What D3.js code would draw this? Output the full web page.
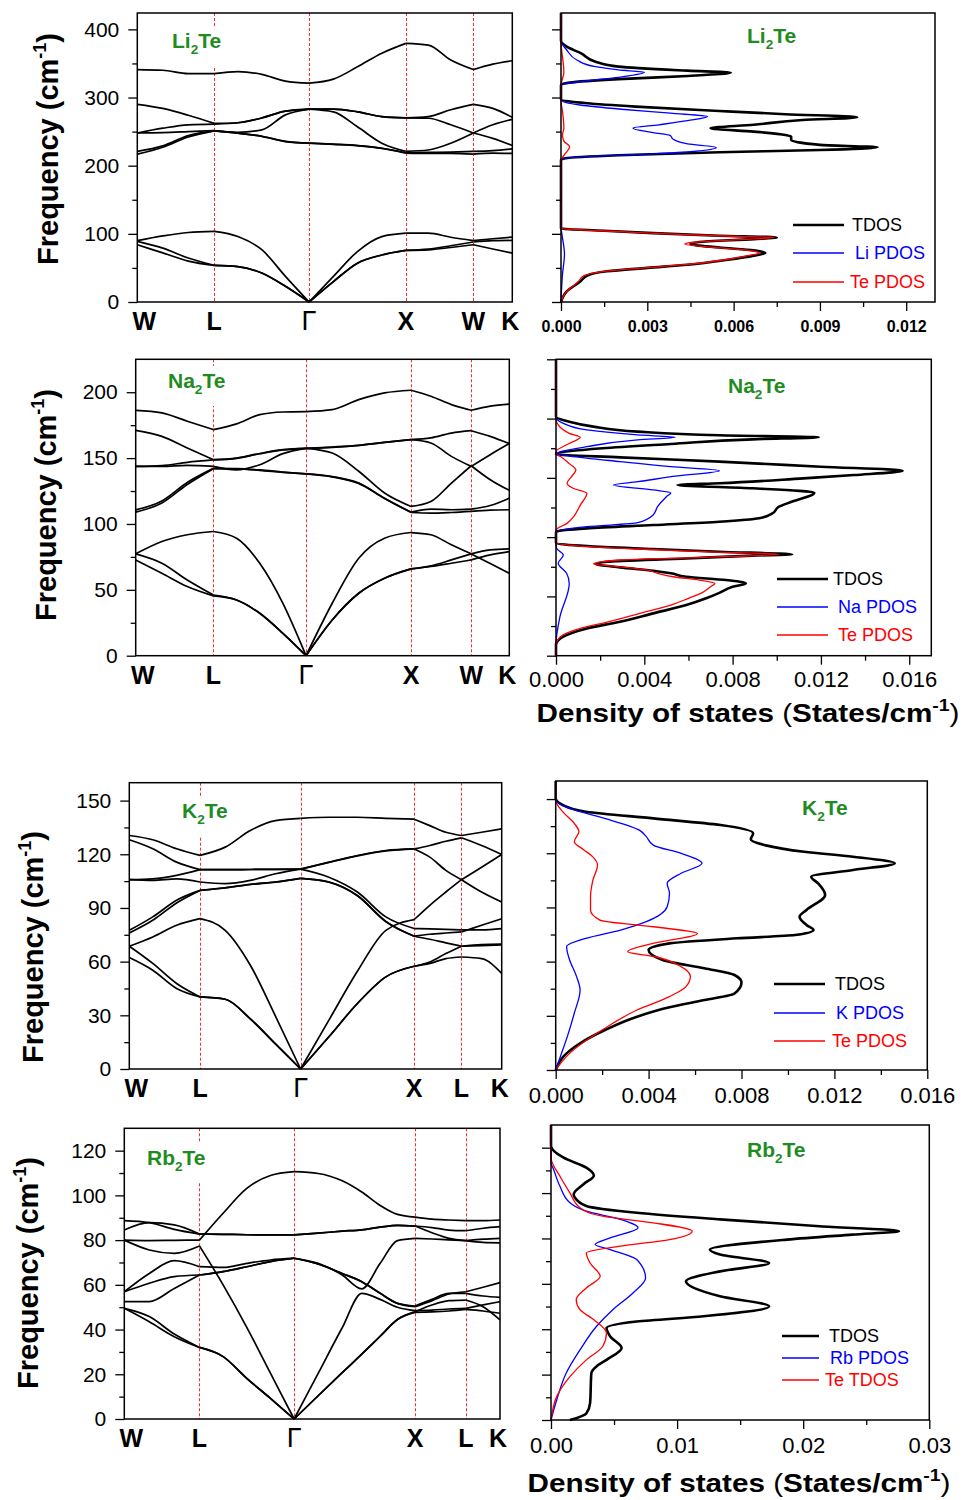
<!DOCTYPE html>
<html lang="en">
<head>
<meta charset="UTF-8">
<title>Phonon dispersion and DOS of Li2Te, Na2Te, K2Te, Rb2Te</title>
<script src="https://d3js.org/d3.v7.min.js"></script>
<style>
  body { margin: 0; background: #fff; }
  svg { display: block; }
  text { font-family: "Liberation Sans", Arial, sans-serif; }
</style>
</head>
<body>
<svg id="chart" width="969" height="1500"></svg>
<script>
// ---------------- data: Li2Te ----------------
const liK = [0,0.068,0.136,0.205, 0.268,0.332,0.395,0.458, 0.523,0.587,0.652,0.716, 0.776,0.836,0.896, 0.948,1];
const liSym = [0,0.205,0.458,0.716,0.896,1];
const liSymLabels = ["W","L","Γ","X","W","K"];
const liBands = [
  [341,340,335,335, 338,334,324,321, 327,345,365,379.5, 377,355,341, 349,354],
  [290,284,274,262, 263,270,280,283, 283,279,272,270, 272,282,290, 284,271],
  [248,255,260,261, 263,270,280,283, 283,279,272,270, 269.6,260,248, 260,268],
  [248,248.6,250,251.5, 249,252.5,274.5,283, 279,257,233,221, 223,233,248, 240,229.5],
  [221,229,244,251, 247.8,243.2,235.6,233, 231.5,229.5,225.6,219, 219.5,220,221, 222,224.7],
  [217,227,242,251, 247.6,243,235.4,233, 231.3,229.3,225.4,218.5, 218,218,217, 218.5,218],
  [90,97,102,103.5, 96,76.7,37.6,0, 37.6,74,96,101, 101,95,90, 92.8,95.2],
  [89,79,64.5,53.7, 52,42.5,23,0, 30,57,69,75.7, 77.5,82.5,88, 90,90.3],
  [84,72,60,53.7, 52,42.5,23,0, 30,57,69,75.7, 76.5,80,84, 77.7,71.8]
];
const liFreqTicks = [0,100,200,300,400];
const liFreqMinor = [50,150,250,350];
const liDosTicks = [0,0.003,0.006,0.009,0.012];
const liDosMinor = [0.0015,0.0045,0.0075,0.0105];
const liTdos = [[0,0],[15.6,0.0002],[30,0.00067],[38.6,0.0009],[45,0.0016],[50,0.003],[54.7,0.0044],[62,0.0058],[68,0.0067],[71.8,0.0071],[75.7,0.0067],[80,0.0055],[85,0.0045],[88,0.0048],[92.3,0.0067],[94.7,0.0075],[97.2,0.0055],[101,0.0032],[104.5,0.0015],[108,0],[208.5,0],[211,0.00015],[215.4,0.002],[219.8,0.0055],[223,0.009],[227,0.011],[230.5,0.009],[237.8,0.008],[242.7,0.008],[245,0.0078],[250,0.0067],[255,0.0052],[260,0.0067],[267,0.0084],[271,0.0103],[275.5,0.0078],[280.3,0.0055],[286.7,0.0026],[291.6,0.0009],[297.4,0],[318.4,0],[321.9,0.0003],[327,0.002],[331.6,0.0044],[336.5,0.0059],[339.4,0.0044],[345.3,0.002],[352.6,0.0012],[364.8,0.0007],[374.6,0.0002],[383.4,0],[424,0]];
const liLiPdos = [[0,0],[40,0.00005],[70,0.00012],[100,0.00003],[110,0],[209.5,0],[213.4,0.0009],[217.3,0.0032],[220.8,0.0046],[226.6,0.0054],[232,0.0044],[238.8,0.0039],[244.2,0.0038],[248.6,0.0032],[255,0.0025],[260,0.0034],[266,0.0044],[272,0.0051],[277,0.0038],[282.8,0.0021],[289,0.00067],[296.5,0],[318.4,0],[324.3,0.0009],[329.7,0.002],[337,0.0029],[340.5,0.002],[345.3,0.0012],[355,0.00055],[369.7,0.0002],[383.4,0],[424,0]];
const liTePdos = [[0,0],[13,0.00015],[30,0.0006],[38.6,0.0008],[45,0.0015],[50,0.0029],[54.7,0.0043],[62,0.0057],[68,0.0065],[71.8,0.0069],[75.7,0.0065],[80,0.0053],[85,0.0043],[88,0.0047],[92.3,0.0066],[94.7,0.0074],[97.2,0.0054],[101,0.0031],[104.5,0.0014],[108,0],[208,0],[215,0.0001],[228,0.0003],[236,0.0001],[245,0.00005],[255,0.0001],[280,0.00005],[295,0],[318,0],[337,0.0001],[383,0],[424,0]];

// ---------------- data: Na2Te ----------------
const naK = [0,0.070,0.138,0.208, 0.270,0.332,0.394,0.456, 0.526,0.597,0.666,0.737, 0.790,0.845,0.898, 0.949,1];
const naSym = [0,0.208,0.456,0.737,0.898,1];
const naSymLabels = ["W","L","Γ","X","W","K"];
const naBands = [
  [186.3,184.3,178,171.6, 176,183,185,185.3, 186.8,194.4,199.5,201.5, 197,190.6,186.3, 189.4,191],
  [171,166.5,157.7,148.8, 150,153.5,156.4,157.4, 158.4,159.7,162,164, 165.3,169,170.8, 166.5,161],
  [143.7,144.3,146.8,148.6, 149.8,153.3,156.2,157.4, 158.2,159.6,161.9,164, 161.5,151.3,143.7, 152.6,161],
  [143.7,143.7,144.5,143.7, 141,145,153.4,157.4, 153.9,140,123.5,113.3, 117,131,144.2, 133.6,125.5],
  [110.7,117.5,131.5,142.2, 142,141,139.4,138, 136,131,119.6,109, 111.3,110.8,111.3, 114,119.6],
  [109,116,130,142, 141.8,140.7,139.2,138, 135.8,130.8,119.4,108.7, 108.2,108.7,109.5, 110.5,110.8],
  [77.3,86.7,91.8,94.3, 89.2,70.2,39.8,0, 39.8,74,89.2,93.5, 91.8,84.2,77.3, 80.4,81.1],
  [77.3,70.2,57.5,46.1, 42.3,32.2,17,0, 27.1,47.4,58.8,65.9, 68.2,72.7,77.3, 70,62.6],
  [72.7,62.6,52.5,45.4, 42.3,32.2,17,0, 27.1,47.4,58.8,65.9, 67.7,70.2,72.7, 76.5,79]
];
const naFreqTicks = [0,50,100,150,200];
const naFreqMinor = [25,75,125,175];
const naDosFreqTicks = [0,50,100,150,200,250];
const naDosFreqMinor = [25,75,125,175,225];
const naDosTicks = [0,0.004,0.008,0.012,0.016];
const naDosMinor = [0.002,0.006,0.010,0.014];
const naTdos = [[0,0],[9,0],[16,0.00033],[23,0.0014],[28.7,0.0029],[35.7,0.0044],[42.7,0.0059],[48.4,0.0068],[53,0.0074],[58.2,0.008],[61,0.0086],[63.8,0.0077],[66.6,0.0059],[69.5,0.0052],[71.7,0.0044],[74.5,0.0029],[77.3,0.0018],[79.3,0.0023],[82,0.0059],[84.4,0.0089],[85.5,0.0107],[87.7,0.0074],[90,0.0044],[92.5,0.0014],[95.3,0],[104.6,0],[107.4,0.0014],[110.2,0.0044],[113,0.0074],[115.9,0.0092],[120,0.0098],[125.7,0.0101],[130,0.0107],[137.5,0.0117],[141.2,0.0089],[144,0.0055],[145.4,0.0074],[149.6,0.0112],[152.4,0.0135],[156,0.0157],[159.4,0.012],[163.7,0.0074],[167.3,0.0029],[170,0],[175,0.0021],[178.6,0.0052],[182.5,0.0089],[184.2,0.0119],[185.9,0.0074],[189,0.0037],[193.2,0.0017],[197.4,0.0006],[201.6,0],[250,0]];
const naNaPdos = [[0,0],[9,0],[33,0.00018],[61,0.0006],[69.5,0.00048],[78,0.0001],[85,0.00033],[90.5,0.00003],[95,0],[104.6,0],[108.8,0.0014],[112.2,0.0037],[118.7,0.0044],[125.7,0.0046],[134.1,0.005],[137.5,0.0052],[139.8,0.0044],[144,0.0026],[146.8,0.0037],[151.6,0.0055],[156,0.0074],[159.4,0.0052],[163.7,0.0029],[168.4,0.0006],[170,0],[176.3,0.0014],[182,0.0037],[184.2,0.0054],[186.2,0.0037],[190.4,0.0014],[196,0.00033],[201.6,0],[250,0]];
const naTePdos = [[0,0],[9,0],[16,0.0002],[23,0.0011],[28.7,0.0024],[35.7,0.0038],[42.7,0.0052],[48.4,0.006],[53,0.0066],[58.2,0.007],[61,0.0072],[63.8,0.0065],[66.6,0.0053],[69.5,0.0046],[72.3,0.0041],[75,0.0029],[77.3,0.0017],[80.7,0.0029],[83,0.0067],[85.5,0.0101],[87.7,0.0067],[90,0.0037],[92.5,0.0011],[95.3,0],[106,0],[111.6,0.0005],[117.3,0.0008],[127,0.0011],[137,0.0014],[141,0.0008],[145.4,0.0005],[151,0.0007],[156.6,0.0009],[162,0.0006],[168,0.0002],[170,0],[172,0],[179,0.0006],[184.2,0.0011],[187.6,0.0006],[194.6,0.0001],[200,0],[250,0]];

// ---------------- data: K2Te ----------------
const kaK = [0,0.063,0.127,0.190, 0.2575,0.325,0.3925,0.460, 0.536,0.6125,0.689,0.765, 0.807,0.850,0.892, 0.946,1];
const kaSym = [0,0.190,0.460,0.765,0.892,1];
const kaSymLabels = ["W","L","Γ","X","L","K"];
const kaBands = [
  [130.5,128.1,123.1,119.4, 124,133.3,138.8,140.1, 140.7,140.7,140.1,139.6, 136,132.3,130.5, 132.3,134.2],
  [128.1,123.1,115.6,111.4, 111.4,111.5,111.6,111.7, 115.6,119.3,122.1,123, 124.9,127.3,129.2, 124.9,119.9],
  [105.8,106.3,108.2,111.4, 111.4,111.5,111.6,111.7, 115.4,119.1,121.9,123, 118.4,111,105.8, 98.9,93.3],
  [105.8,105.4,106.3,104.5, 103.6,105.4,109.1,111.7, 107.2,98.9,85,78.5, 78.3,78,77.7, 77.8,78.5],
  [76,83.1,92.8,99.8, 101.3,103.2,104.5,106.5, 104.5,97,82.5,74.2, 75.3,76,76.6, 80.3,84],
  [77.5,85,94.3,99.8, 101.2,103.1,104.4,106.5, 104.4,96.8,82.3,74.2, 72.5,70.5,68.6, 69,69.4],
  [68.6,73.8,80.3,84, 77.5,58,29.5,0, 27.3,54.6,77.5,83.5, 91.5,98.9,105.8, 112.8,119.9],
  [68.6,59,47.8,40.3, 39,28,14,0, 18,36.6,51.5,57.4, 59.8,64.5,68.6, 69.5,69.8],
  [62.3,55.2,45,40.3, 39,28,14,0, 18,36.6,51.5,57.4, 59,61.7,62.6, 61.7,53.4]
];
const kaFreqTicks = [0,30,60,90,120,150];
const kaFreqMinor = [15,45,75,105,135];
const kaDosTicks = [0,0.004,0.008,0.012,0.016];
const kaDosMinor = [0.002,0.006,0.010,0.014];
const kaTdos = [[0,0],[7.4,0.00033],[14.8,0.00105],[22,0.0021],[29.5,0.0035],[34.7,0.0049],[38.7,0.0064],[42.4,0.0077],[48.5,0.008],[52.6,0.0077],[56.3,0.0064],[60.9,0.0046],[66.4,0.004],[70.1,0.0049],[72.9,0.0078],[74.7,0.0103],[77.5,0.0111],[80.3,0.0108],[84.9,0.0105],[88.6,0.0108],[96.9,0.0116],[103.3,0.0113],[107,0.011],[110.7,0.0128],[114.4,0.0146],[118.1,0.0128],[120.8,0.0107],[124.5,0.009],[127.7,0.0084],[131,0.0085],[135.6,0.0071],[139.3,0.0042],[143,0.0013],[146.7,0.0003],[150.4,0],[160,0]];
const kaKPdos = [[0,0],[7.4,0.0002],[18.5,0.0005],[31.4,0.0008],[44.3,0.00105],[51.7,0.0009],[60.9,0.0006],[68.3,0.00047],[72.9,0.0013],[77.5,0.0028],[82.1,0.0039],[90.4,0.0048],[97.8,0.0049],[103.3,0.0048],[108.9,0.0054],[114.4,0.0063],[119.9,0.0054],[124.5,0.0042],[129.2,0.0039],[132.8,0.0036],[139.3,0.0021],[144.8,0.0006],[149.4,0],[160,0]];
const kaTePdos = [[0,0],[9.2,0.0006],[23,0.0021],[33.2,0.0035],[40.6,0.0049],[46,0.0056],[51.7,0.0058],[57.2,0.0054],[62.7,0.0043],[65.5,0.0031],[70.1,0.0042],[75.6,0.0061],[79.3,0.0042],[83,0.0019],[88.6,0.0015],[96,0.0015],[105,0.0016],[113.5,0.0018],[118,0.0016],[122,0.0012],[126.4,0.0008],[132,0.001],[136.5,0.0008],[143,0.0003],[149.4,0],[160,0]];

// ---------------- data: Rb2Te ----------------
const rbK = [0,0.0665,0.133,0.200, 0.263,0.326,0.389,0.452, 0.516,0.580,0.632,0.681,0.727,0.774, 0.819,0.864,0.909, 0.955,1];
const rbSym = [0,0.200,0.452,0.774,0.909,1];
const rbSymLabels = ["W","L","Γ","X","L","K"];
const rbBands = [
  [88.7,87.8,84.8,82.7, 82.6,82.4,82.3,82.3, 83.1,84.0,84.6,85.8,86.6,86.3, 85.6,84.5,84.2, 85.3,86],
  [84.5,87.8,86.8,82.7, 82.6,82.4,82.3,82.3, 83.1,84.0,84.6,85.8,86.6,86.3, 83.3,80.8,79.8, 79,78.8],
  [80,79.8,79.9,80, 92,103.1,108.9,110.6, 109.8,106.5,101.5,95.5,91.5,90.3, 89.4,89,88.7, 88.7,89],
  [80,75.6,74.1,77.4, 60,41,20.5,0, 20.4,40.8,56.2,53.5,50,48.5, 48.7,49.2,49.5, 51,52.5],
  [56.9,65.1,70.8,68.1, 67.8,69.6,71.1,71.9, 69.6,64.4,58.2,69.6,79.8,80.8, 80.5,80.1,79.8, 80.4,80.8],
  [56.9,60.7,63.7,64.4, 65.9,68.1,70.4,71.9, 69.3,65.1,61.4,56.2,51.7,50.5, 53.5,56.2,56.2, 55,54.4],
  [52.5,52.5,58.4,64.4, 65.9,68.1,70.4,71.9, 69.3,65.1,61.4,56.2,51.7,50.2, 52.9,55.9,56.9, 58.9,61],
  [49.5,43.5,36.8,32, 27.9,18.2,9.2,0, 10.4,20.7,29,37,44.5,48, 51,52.9,53.2, 50.2,44.3],
  [49.5,45.8,38,32, 27.9,18.2,9.2,0, 10.4,20.7,29,37,44.5,47.7, 47.9,48.3,49, 48.3,47.3]
];
const rbFreqTicks = [0,20,40,60,80,100,120];
const rbFreqMinor = [10,30,50,70,90,110];
const rbDosTicks = [0,0.01,0.02,0.03];
const rbDosMinor = [0.005,0.015,0.025];
const rbTdos = [[0,0.0015],[2.9,0.0028],[7.4,0.0031],[20.6,0.0032],[23.6,0.0036],[26.5,0.0044],[31.7,0.0056],[36.8,0.0047],[40.5,0.0044],[43.4,0.0068],[45.7,0.0121],[50.1,0.0173],[54.5,0.0134],[61.1,0.0107],[65.5,0.0134],[69.2,0.0173],[72.9,0.0134],[75.1,0.0126],[79.5,0.0187],[81.7,0.0239],[83.2,0.0276],[85.4,0.0213],[88.4,0.0134],[91.3,0.0068],[94.3,0.0028],[97.9,0.0019],[99.4,0.0018],[104,0.0026],[107.8,0.0034],[111.2,0.0028],[115.6,0.001],[120.8,0],[130,0]];
const rbRbPdos = [[0,0],[8.8,0.00045],[20.6,0.0012],[30.9,0.0023],[41.2,0.0036],[48.6,0.0049],[56,0.0065],[62.6,0.0075],[70.7,0.0068],[75.1,0.0047],[77.3,0.0035],[80.3,0.0047],[84.7,0.0069],[88.4,0.0055],[92,0.0028],[95.7,0.0015],[103.1,0.0007],[110.5,0.0002],[113.4,0],[130,0]];
const rbTePdos = [[0,0],[10.3,0.00045],[19.1,0.0015],[26.5,0.0028],[32.4,0.0041],[38.3,0.0044],[44.2,0.0034],[48.6,0.0023],[53,0.002],[58.2,0.0028],[63.3,0.0039],[69.2,0.0031],[73.6,0.0028],[76.6,0.0055],[79.5,0.0094],[83.2,0.0112],[86.9,0.0081],[89.8,0.0041],[93.5,0.0023],[100.1,0.0015],[107.5,0.0007],[115.6,0],[130,0]];

// ---------------- drawing ----------------
const svg = d3.select("#chart");
const FONT = '"Liberation Sans", Arial, sans-serif';
const GREEN = "#1f8c1f";

function chem(g, x, y, parts, size) {
  // parts: [main, subscript, rest]
  const t = g.append("text").attr("x", x).attr("y", y)
    .attr("font-size", size).attr("font-weight", "bold").attr("fill", GREEN).attr("font-family", FONT);
  t.append("tspan").text(parts[0]);
  t.append("tspan").attr("font-size", size * 0.65).attr("dy", 6).text(parts[1]);
  t.append("tspan").attr("dy", -6).text(parts[2]);
  return t;
}

function styleAxis(a, size, bold) {
  a.attr("font-family", FONT).attr("font-size", size);
  a.select(".domain").remove();
  a.selectAll("line").attr("stroke", "#000").attr("stroke-width", 1.3);
  a.selectAll("text").attr("fill", "#000").attr("font-weight", bold ? "bold" : "normal");
}

function frame(g, l, r, t, b) {
  g.append("rect").attr("x", l).attr("y", t).attr("width", r - l).attr("height", b - t)
    .attr("fill", "none").attr("stroke", "#000").attr("stroke-width", 1.5);
}

function drawBand(c) {
  const {l, r, t, b} = c.box;
  const g = svg.append("g");
  const x = d3.scaleLinear().domain([0, 1]).range([l, r]);
  const y = d3.scaleLinear().domain([0, c.yMax]).range([b, t]);

  // high-symmetry guides, snapped to the pixel grid so the thin red stays red
  g.selectAll("line.sym").data(c.sym.slice(1, -1)).join("line")
    .attr("x1", d => Math.round(x(d)) + 0.5).attr("x2", d => Math.round(x(d)) + 0.5)
    .attr("y1", t).attr("y2", b)
    .attr("stroke", "#ff2a2a").attr("stroke-width", 1).attr("stroke-dasharray", "3,2");

  // title on a white patch
  const title = chem(g, c.titleXY[0], c.titleXY[1], c.title, 21);
  const bb = title.node().getBBox();
  g.insert("rect", "text").attr("x", bb.x - 3).attr("y", bb.y - 3)
    .attr("width", bb.width + 6).attr("height", bb.height + 12).attr("fill", "#fff");

  const line = d3.line().x(d => x(d[0])).y(d => y(d[1])).curve(d3.curveMonotoneX);
  c.bands.forEach(band => {
    for (let s = 0; s < c.sym.length - 1; s++) {
      const i0 = c.k.indexOf(c.sym[s]), i1 = c.k.indexOf(c.sym[s + 1]);
      const pts = d3.range(i0, i1 + 1).map(i => [c.k[i], band[i]]);
      g.append("path").attr("d", line(pts)).attr("fill", "none")
        .attr("stroke", "#000").attr("stroke-width", 1.7);
    }
  });

  frame(g, l, r, t, b);
  const ya = g.append("g").attr("transform", `translate(${l},0)`)
    .call(d3.axisLeft(y).tickValues(c.yTicks).tickSize(9).tickPadding(9));
  styleAxis(ya, 21, false);
  const ym = g.append("g").attr("transform", `translate(${l},0)`)
    .call(d3.axisLeft(y).tickValues(c.yMinor).tickSize(5).tickFormat(""));
  styleAxis(ym, 21, false);

  // symmetry point labels
  const last = c.sym.length - 1;
  c.sym.forEach((s, i) => {
    const lab = c.symLabels[i];
    const gam = lab === "Γ";
    g.append("text")
      .attr("x", x(s) + (i === 0 ? 7 : i === last ? -2 : 0))
      .attr("y", b + 28).attr("text-anchor", "middle")
      .attr("font-family", gam ? '"Liberation Serif", "Times New Roman", serif' : FONT)
      .attr("font-weight", gam ? "normal" : "bold")
      .attr("font-size", gam ? 27 : 25).attr("fill", "#000").text(lab);
  });

  // y title
  const yt = g.append("text").attr("transform", `translate(${c.yTitle[0]},${c.yTitle[1]}) rotate(-90)`)
    .attr("text-anchor", "middle").attr("font-family", FONT).attr("font-weight", "bold")
    .attr("font-size", 29).attr("fill", "#000");
  yt.append("tspan").text("Frequency (cm");
  yt.append("tspan").attr("font-size", 18).attr("dy", -12).text("-1");
  yt.append("tspan").attr("dy", 12).text(")");
}

function drawDos(c) {
  const {l, r, t, b} = c.box;
  const g = svg.append("g");
  const x = d3.scaleLinear().domain([0, c.xMax]).range([l, r]);
  const y = d3.scaleLinear().domain([0, c.yMax]).range([b, t]);
  const line = d3.line().x(d => x(d[1])).y(d => y(d[0])).curve(d3.curveMonotoneY);

  const styles = [
    {color: "#000", width: 2.6},
    {color: "#0000ff", width: 1.3},
    {color: "#ff0000", width: 1.3}
  ];
  c.curves.forEach((data, i) => {
    g.append("path").attr("d", line(data)).attr("fill", "none")
      .attr("stroke", styles[i].color).attr("stroke-width", styles[i].width)
      .attr("stroke-linejoin", "round");
  });

  frame(g, l, r, t, b);
  const ya = g.append("g").attr("transform", `translate(${l},0)`)
    .call(d3.axisLeft(y).tickValues(c.yTicks).tickSize(9).tickFormat(""));
  styleAxis(ya, 20, false);
  const ym = g.append("g").attr("transform", `translate(${l},0)`)
    .call(d3.axisLeft(y).tickValues(c.yMinor).tickSize(5).tickFormat(""));
  styleAxis(ym, 20, false);
  const xa = g.append("g").attr("transform", `translate(0,${b})`)
    .call(d3.axisBottom(x).tickValues(c.xTicks).tickSize(9).tickFormat(d3.format(c.fmt)));
  styleAxis(xa, c.tickFont, c.tickBold);
  xa.selectAll("text").attr("dy", null).attr("y", c.tickBase);
  const xm = g.append("g").attr("transform", `translate(0,${b})`)
    .call(d3.axisBottom(x).tickValues(c.xMinor).tickSize(5).tickFormat(""));
  styleAxis(xm, 20, false);

  chem(g, c.titleXY[0], c.titleXY[1], c.title, 21);

  // legend
  const L = c.legend;
  L.labels.forEach((lab, i) => {
    g.append("line").attr("x1", L.x1).attr("x2", L.x2).attr("y1", L.ys[i]).attr("y2", L.ys[i])
      .attr("stroke", styles[i].color).attr("stroke-width", i === 0 ? 2.6 : 1.3);
    g.append("text").attr("x", L.tx[i]).attr("y", L.ys[i]).attr("dy", "0.35em")
      .attr("font-family", FONT).attr("font-size", 18).attr("fill", styles[i].color).text(lab);
  });
}

function dosTitle(cx, base) {
  const t = svg.append("text").attr("x", cx).attr("y", base).attr("text-anchor", "middle")
    .attr("font-family", FONT).attr("font-weight", "bold").attr("font-size", 26).attr("fill", "#000")
    .attr("textLength", 423).attr("lengthAdjust", "spacingAndGlyphs");
  t.append("tspan").text("Density of states ");
  t.append("tspan").attr("font-weight", "normal").text("(");
  t.append("tspan").text("States/cm");
  t.append("tspan").attr("font-size", 17).attr("dy", -11).text("-1");
  t.append("tspan").attr("font-weight", "normal").attr("dy", 11).text(")");
}

// ---- Li2Te ----
drawBand({box: {l: 137.3, r: 512.3, t: 13, b: 302}, yMax: 424, k: liK, sym: liSym, symLabels: liSymLabels,
  bands: liBands, yTicks: liFreqTicks, yMinor: liFreqMinor, title: ["Li", "2", "Te"], titleXY: [172, 48], yTitle: [58, 149]});
drawDos({box: {l: 561, r: 935, t: 13, b: 302}, xMax: 0.013, yMax: 424, curves: [liTdos, liLiPdos, liTePdos],
  yTicks: liFreqTicks, yMinor: liFreqMinor, xTicks: liDosTicks, xMinor: liDosMinor, fmt: ".3f",
  tickFont: 16, tickBold: true, tickBase: 30, title: ["Li", "2", "Te"], titleXY: [747, 43],
  legend: {x1: 793, x2: 844, ys: [225, 253, 282], tx: [852, 855, 850], labels: ["TDOS", "Li PDOS", "Te PDOS"]}});

// ---- Na2Te ----
drawBand({box: {l: 135.7, r: 509.3, t: 359.3, b: 655.7}, yMax: 225, k: naK, sym: naSym, symLabels: naSymLabels,
  bands: naBands, yTicks: naFreqTicks, yMinor: naFreqMinor, title: ["Na", "2", "Te"], titleXY: [168, 388], yTitle: [56, 505]});
drawDos({box: {l: 556, r: 931.3, t: 359.3, b: 655.7}, xMax: 0.017, yMax: 250, curves: [naTdos, naNaPdos, naTePdos],
  yTicks: naDosFreqTicks, yMinor: naDosFreqMinor, xTicks: naDosTicks, xMinor: naDosMinor, fmt: ".3f",
  tickFont: 22, tickBold: false, tickBase: 31, title: ["Na", "2", "Te"], titleXY: [728, 393],
  legend: {x1: 777, x2: 828, ys: [579, 607, 635], tx: [833, 838, 838], labels: ["TDOS", "Na PDOS", "Te PDOS"]}});
dosTitle(748, 722);

// ---- K2Te ----
drawBand({box: {l: 129.3, r: 501.7, t: 782.7, b: 1069}, yMax: 160, k: kaK, sym: kaSym, symLabels: kaSymLabels,
  bands: kaBands, yTicks: kaFreqTicks, yMinor: kaFreqMinor, title: ["K", "2", "Te"], titleXY: [182, 818], yTitle: [43, 947]});
drawDos({box: {l: 555.7, r: 927.3, t: 781, b: 1070}, xMax: 0.016, yMax: 160, curves: [kaTdos, kaKPdos, kaTePdos],
  yTicks: kaFreqTicks, yMinor: kaFreqMinor, xTicks: kaDosTicks, xMinor: kaDosMinor, fmt: ".3f",
  tickFont: 22, tickBold: false, tickBase: 33, title: ["K", "2", "Te"], titleXY: [802, 815],
  legend: {x1: 774, x2: 825, ys: [984, 1013, 1041], tx: [835, 836, 832], labels: ["TDOS", "K PDOS", "Te PDOS"]}});

// ---- Rb2Te ----
drawBand({box: {l: 124.3, r: 500, t: 1128.3, b: 1419}, yMax: 130, k: rbK, sym: rbSym, symLabels: rbSymLabels,
  bands: rbBands, yTicks: rbFreqTicks, yMinor: rbFreqMinor, title: ["Rb", "2", "Te"], titleXY: [147, 1165], yTitle: [38, 1273]});
drawDos({box: {l: 551, r: 929.3, t: 1125, b: 1420}, xMax: 0.03, yMax: 130, curves: [rbTdos, rbRbPdos, rbTePdos],
  yTicks: rbFreqTicks, yMinor: rbFreqMinor, xTicks: rbDosTicks, xMinor: rbDosMinor, fmt: ".2f",
  tickFont: 22, tickBold: false, tickBase: 33, title: ["Rb", "2", "Te"], titleXY: [747, 1157],
  legend: {x1: 782, x2: 819, ys: [1336, 1358, 1380], tx: [829, 830, 825], labels: ["TDOS", "Rb PDOS", "Te TDOS"]}});
dosTitle(739, 1492);
</script>
</body>
</html>
